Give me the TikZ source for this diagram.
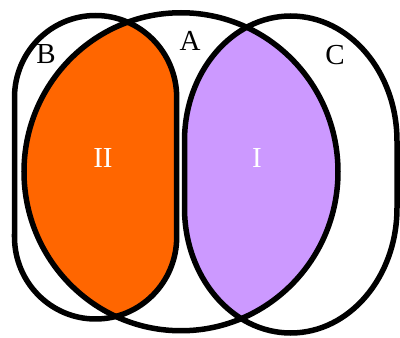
\documentclass[tikz,border=0pt]{standalone}
\usepackage{fontspec}
\setmainfont{Liberation Serif}
\definecolor{orangeII}{HTML}{FF6600}
\definecolor{purpleI}{HTML}{CC99FF}
\tikzset{
  outline/.style={draw=black, line width=5.5pt},
  setlabel/.style={font=\fontsize{29}{29}\selectfont, text=black, inner sep=0pt},
  regionlabel/.style={font=\fontsize{29}{29}\selectfont, text=white, inner sep=0pt}
}
\def\pathA{(181,166.25) ellipse [x radius=157, y radius=159]}
\def\pathB{(14.5,101) -- (14.5,240.5) arc [start angle=180, end angle=0, x radius=81.1, y radius=82] -- (176.7,101) arc [start angle=0, end angle=-180, x radius=81.1, y radius=82] -- cycle}
\def\pathC{(184.5,130) -- (184.5,197) arc [start angle=180, end angle=0, x radius=106.25, y radius=125] -- (397,130) arc [start angle=0, end angle=-180, x radius=106.25, y radius=125] -- cycle}
\begin{document}
\begin{tikzpicture}[x=1pt, y=1pt]
  \useasboundingbox (0,0) rectangle (400,338);
  \fill[white] (0,0) rectangle (400,338);
  % region II = A and B
  \begin{scope}
    \clip \pathA;
    \fill[orangeII] \pathB;
  \end{scope}
  % region I = A and C
  \begin{scope}
    \clip \pathA;
    \fill[purpleI] \pathC;
  \end{scope}
  \draw[outline] \pathB;
  \draw[outline] \pathC;
  \draw[outline] \pathA;
  \node[setlabel] (labB) at (46,284) {B};
  \node[setlabel] (labA) at (190,297) {A};
  \node[setlabel] (labC) at (335,283) {C};
  \node[regionlabel] (labII) at (103,180) {II};
  \node[regionlabel] (labI) at (257,180) {I};
\end{tikzpicture}
\end{document}
